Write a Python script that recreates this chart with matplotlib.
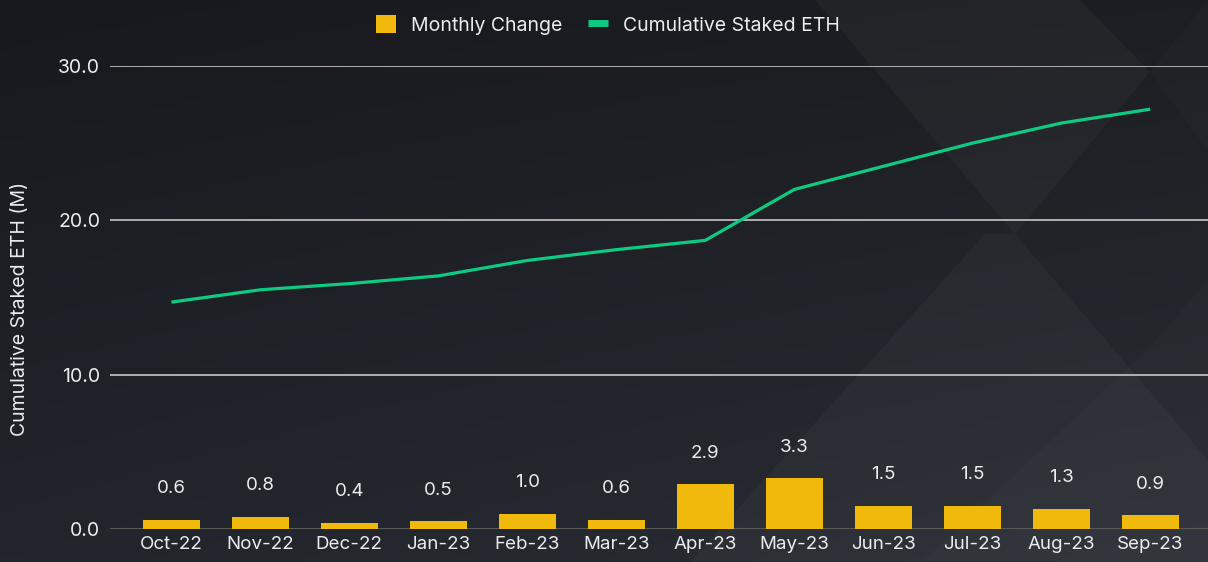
#!/usr/bin/env python3

import numpy as np
import matplotlib
matplotlib.use("Agg")
import matplotlib.pyplot as plt
from matplotlib.patches import Polygon

months = ["Oct-22", "Nov-22", "Dec-22", "Jan-23", "Feb-23", "Mar-23",
          "Apr-23", "May-23", "Jun-23", "Jul-23", "Aug-23", "Sep-23"]
monthly_change = [0.6, 0.8, 0.4, 0.5, 1.0, 0.6, 2.9, 3.3, 1.5, 1.5, 1.3, 0.9]
cumulative = [14.7, 15.5, 15.9, 16.4, 17.4, 18.1, 18.7, 22.0, 23.5, 25.0, 26.3, 27.2]

yellow = "#f0b90b"
green = "#0ecb81"
text_color = "#eaecef"

plt.rcParams["font.family"] = ["Inter", "DejaVu Sans"]

W, H = 1208, 562
fig = plt.figure(figsize=(W / 100, H / 100), dpi=100)

# background: dark gradient plus faint diamond shapes
bg = fig.add_axes([0, 0, 1, 1], zorder=-10)
gx = np.linspace(0, 1, 200)
gy = np.linspace(0, 1, 100)
X, Y = np.meshgrid(gx, gy)
tl = np.array([0x17, 0x19, 0x1e]) / 255
tr = np.array([0x1c, 0x1e, 0x23]) / 255
bl = np.array([0x22, 0x25, 0x2c]) / 255
br = np.array([0x2a, 0x2d, 0x34]) / 255
img = (tl * ((1 - X) * (1 - Y))[..., None] + tr * (X * (1 - Y))[..., None]
       + bl * ((1 - X) * Y)[..., None] + br * (X * Y)[..., None])
bg.imshow(img, extent=[0, W, H, 0], aspect="auto")
shapes = [
    ([(815, 0), (1015, 234), (1150, 72), (1080, 0)], 0.03),
    ([(690, 562), (985, 234), (1015, 234), (1208, 460), (1208, 562)], 0.03),
    ([(922, 562), (1150, 347), (1208, 280), (1208, 562)], 0.015),
    ([(1150, 72), (1208, 151), (1208, 0)], 0.015),
]
for pts, a in shapes:
    bg.add_patch(Polygon(pts, closed=True, facecolor="white", alpha=a, lw=0))
bg.set_xlim(0, W)
bg.set_ylim(H, 0)
bg.axis("off")

ax = fig.add_axes([110 / W, 33 / H, 1 - 110 / W, 463 / H])
ax.patch.set_alpha(0)

x = np.arange(len(months))
ax.bar(x, monthly_change, width=0.64, color=yellow, zorder=3,
       label="Monthly Change")
for xi, v in zip(x, monthly_change):
    ax.annotate(f"{v:.1f}", (xi, v), xytext=(0, 31), textcoords="offset pixels",
                ha="center", va="center", color=text_color, fontsize=13.5)

ax.plot(x, cumulative, color=green, lw=2.3, zorder=4, solid_capstyle="butt",
        label="Cumulative Staked ETH")

ax.set_xlim(-0.69, 11.65)
ax.set_ylim(0, 30)
ax.set_yticks([0, 10, 20, 30])
ax.set_yticklabels(["0.0", "10.0", "20.0", "30.0"])
ax.set_xticks(x)
ax.set_xticklabels(months)
ax.tick_params(axis="both", length=0, colors=text_color, labelsize=13.5)
ax.tick_params(axis="y", pad=7, labelsize=14)
ax.tick_params(axis="x", pad=5)
ax.grid(axis="y", color="#d5d5d5", lw=1.1, zorder=1)
ax.axhline(0, color="#4a4a48", lw=1.2, zorder=2)
for s in ax.spines.values():
    s.set_visible(False)
ax.set_ylabel("Cumulative Staked ETH (M)", color=text_color, fontsize=14)
ax.yaxis.set_label_coords(-(110 - 29) / (W - 110), (529 - 309) / 463)

handles, labels = ax.get_legend_handles_labels()
# bars first, then the line
order = [labels.index("Monthly Change"), labels.index("Cumulative Staked ETH")]
leg = fig.legend([handles[i] for i in order], [labels[i] for i in order],
                 loc="upper center", bbox_to_anchor=(0.503, 1.005), ncol=2,
                 frameon=False, fontsize=14, labelcolor=text_color,
                 handlelength=1.05, handleheight=1.1, columnspacing=1.3,
                 handletextpad=0.75)
for line in leg.get_lines():
    line.set_linewidth(5)

plt.savefig("out.png", dpi=100)
